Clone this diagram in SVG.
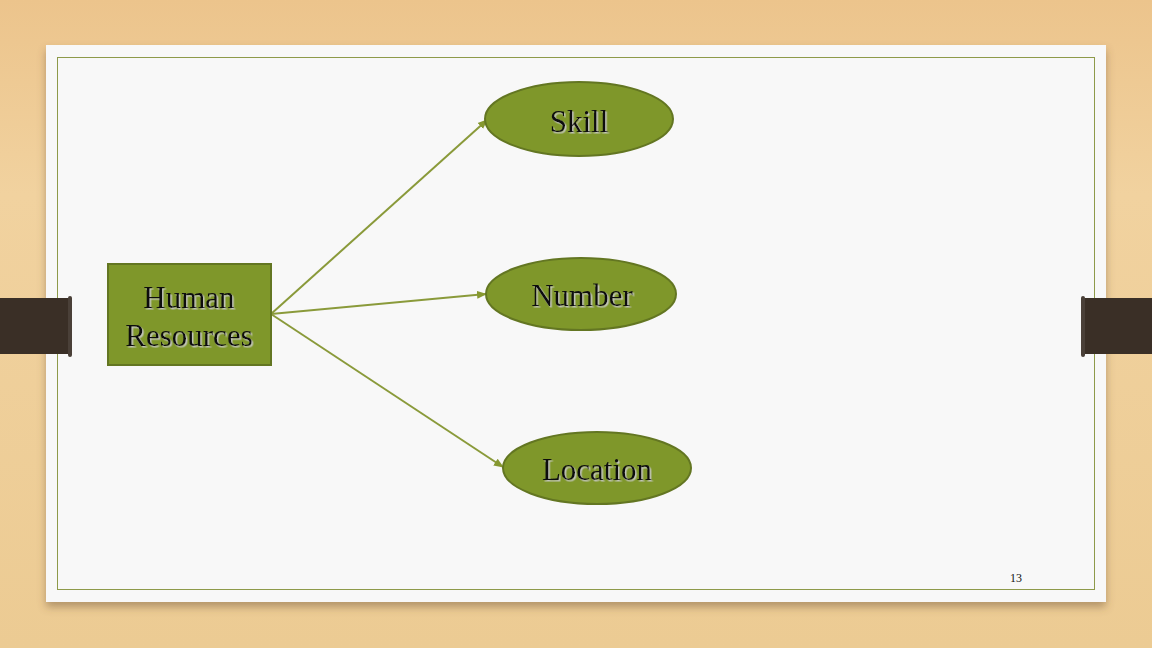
<svg xmlns="http://www.w3.org/2000/svg" width="1152" height="648" viewBox="0 0 1152 648">
<defs>
<linearGradient id="wood" x1="0" y1="0" x2="0" y2="1">
<stop offset="0" stop-color="#ecc48c"/>
<stop offset="0.3" stop-color="#f1d29f"/>
<stop offset="1" stop-color="#eccb93"/>
</linearGradient>
<filter id="sh" x="-5%" y="-5%" width="110%" height="115%">
<feDropShadow dx="0" dy="5" stdDeviation="4" flood-color="#6b5030" flood-opacity="0.45"/>
</filter>
<filter id="ts" x="-10%" y="-10%" width="120%" height="130%">
<feDropShadow dx="1.5" dy="1.5" stdDeviation="0.3" flood-color="#c8c8c8" flood-opacity="0.9"/>
</filter>
<marker id="arr" viewBox="0 0 10 10" refX="9" refY="5" markerWidth="5" markerHeight="5" orient="auto-start-reverse">
<path d="M0,1 L10,5 L0,9 z" fill="#869830"/>
</marker>
<style>
.node{fill:#7f972a;stroke:#637622;stroke-width:2}
.lbl{font-family:"Liberation Serif",serif;font-size:31px;fill:#111;text-anchor:middle;filter:url(#ts)}
.conn{stroke:#8a9a3a;stroke-width:2;fill:none;marker-end:url(#arr)}
.tab{fill:#3a2f26}
</style>
</defs>
<rect width="1152" height="648" fill="url(#wood)"/>
<rect x="46" y="45" width="1060" height="557" fill="#f8f8f8" filter="url(#sh)"/>
<rect x="57.5" y="57.5" width="1037" height="532" fill="none" stroke="#8e9a4a" stroke-width="1"/>
<g id="tabs">
<rect class="tab" x="0" y="298" width="71" height="56"/>
<rect x="68" y="296" width="4" height="61" rx="2" fill="#4a4038"/>
<rect class="tab" x="1082" y="298" width="70" height="56"/>
<rect x="1081" y="296" width="4" height="61" rx="2" fill="#4a4038"/>
</g>
<g id="connectors">
<line class="conn" x1="271" y1="314" x2="487" y2="120"/>
<line class="conn" x1="271" y1="314" x2="486" y2="294"/>
<line class="conn" x1="271" y1="314" x2="503" y2="467"/>
</g>
<g id="human-resources">
<rect class="node" x="108" y="264" width="163" height="101"/>
<text class="lbl" x="189" y="308">Human</text>
<text class="lbl" x="189" y="346">Resources</text>
</g>
<g id="skill">
<ellipse class="node" cx="579" cy="119" rx="94" ry="37"/>
<text class="lbl" x="579" y="132">Skill</text>
</g>
<g id="number">
<ellipse class="node" cx="581" cy="294" rx="95" ry="36"/>
<text class="lbl" x="582" y="306">Number</text>
</g>
<g id="location">
<ellipse class="node" cx="597" cy="468" rx="94" ry="36"/>
<text class="lbl" x="597" y="480">Location</text>
</g>
<text x="1016" y="582" font-family="Liberation Serif,serif" font-size="12" fill="#111" text-anchor="middle">13</text>
</svg>
